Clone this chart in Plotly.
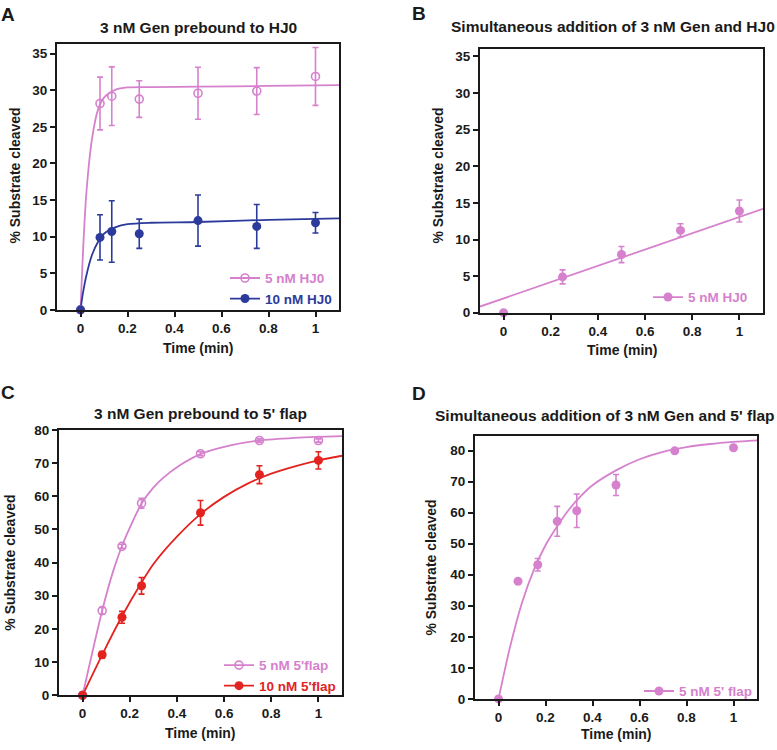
import plotly.graph_objects as go

PINK = "#d681cd"
BLUE = "#2c3b9b"
RED = "#e2231f"
FONT = "Liberation Sans"

# ---------- Panel A: 3 nM Gen prebound to HJ0 ----------
a_time = [0, 0.083, 0.133, 0.25, 0.5, 0.75, 1.0]
a_hj5 = [0, 28.2, 29.2, 28.8, 29.6, 29.9, 31.9]
a_hj5_err = [0, 3.6, 4.0, 2.5, 3.55, 3.2, 3.95]
a_hj10 = [0, 9.9, 10.7, 10.4, 12.2, 11.4, 11.9]
a_hj10_err = [0, 3.1, 4.2, 2.0, 3.5, 3.0, 1.4]
a_fit_t = [0, 0.01, 0.025, 0.05, 0.075, 0.1, 0.15, 0.2, 0.3, 0.5, 0.8, 1.1]
a_fit_hj5 = [0, 7.5, 16.0, 23.6, 27.4, 29.0, 30.1, 30.4, 30.45, 30.5, 30.6, 30.7]
a_fit_hj10 = [0, 2.2, 4.7, 7.6, 9.3, 10.4, 11.3, 11.7, 11.9, 12.0, 12.3, 12.5]

# ---------- Panel B: simultaneous addition, HJ0 ----------
b_time = [0, 0.25, 0.5, 0.75, 1.0]
b_hj5 = [0, 4.9, 7.95, 11.25, 13.9]
b_hj5_err = [0, 0.95, 1.1, 0.9, 1.5]
b_fit_t = [-0.1, 1.1]
b_fit = [0.85, 14.2]

# ---------- Panel C: 3 nM Gen prebound to 5' flap ----------
c_time = [0, 0.083, 0.167, 0.25, 0.5, 0.75, 1.0]
c_fl5 = [0, 25.5, 44.9, 57.9, 72.8, 76.8, 76.8]
c_fl5_err = [0, 1.0, 0.6, 1.5, 0.6, 0.5, 0.5]
c_fl10 = [0, 12.2, 23.5, 33.0, 55.0, 66.5, 70.8]
c_fl10_err = [0, 1.0, 1.8, 2.5, 3.7, 2.7, 2.6]
c_fit5_t = [0, 0.083, 0.13, 0.167, 0.215, 0.25, 0.3, 0.343, 0.414, 0.5, 0.627, 0.75, 0.9, 1.0, 1.1]
c_fit5 = [0, 25.5, 37.5, 45.0, 52.8, 57.8, 62.6, 65.6, 69.4, 72.7, 75.3, 76.8, 77.6, 77.9, 78.1]
c_fit10_t = [0, 0.083, 0.167, 0.25, 0.3, 0.4, 0.5, 0.6, 0.7, 0.8, 0.9, 1.0, 1.1]
c_fit10 = [0, 12.2, 23.8, 34.0, 39.5, 47.8, 54.6, 59.8, 63.8, 66.8, 69.0, 70.8, 72.2]

# ---------- Panel D: simultaneous addition, 5' flap ----------
d_time = [0, 0.083, 0.167, 0.25, 0.333, 0.5, 0.75, 1.0]
d_fl5 = [0, 37.9, 43.2, 57.2, 60.6, 68.9, 79.9, 80.9]
d_fl5_err = [0, 0.5, 2.0, 4.8, 5.4, 3.4, 0.5, 0.5]
d_fit_t = [0, 0.05, 0.1, 0.15, 0.2, 0.25, 0.3, 0.35, 0.4, 0.5, 0.6, 0.7, 0.8, 0.9, 1.0, 1.1]
d_fit = [0, 17.0, 31.0, 41.5, 49.5, 55.6, 61.0, 65.3, 68.8, 73.6, 77.2, 79.6, 81.1, 82.1, 82.8, 83.3]

x_ticks = [0, 0.2, 0.4, 0.6, 0.8, 1]
x_ticktext = ["0", "0.2", "0.4", "0.6", "0.8", "1"]

fig = go.Figure()


def fit_line(x, y, color, ax):
    fig.add_trace(go.Scatter(x=x, y=y, mode="lines", line=dict(color=color, width=1.8, shape="spline", smoothing=0.8),
                             xaxis=ax[0], yaxis=ax[1], showlegend=False, hoverinfo="skip"))


def make_marker(color, open_marker):
    if open_marker:
        return dict(color=color, size=8, symbol="circle-open", line=dict(color=color, width=1.6))
    return dict(color=color, size=9)


def points(x, y, err, color, ax, open_marker):
    fig.add_trace(go.Scatter(x=x, y=y, mode="markers", marker=make_marker(color, open_marker), cliponaxis=False,
                             error_y=dict(type="data", array=err, color=color, thickness=1.6, width=3),
                             xaxis=ax[0], yaxis=ax[1], showlegend=False))


def legend_entry(name, color, ax, legend, open_marker):
    fig.add_trace(go.Scatter(x=[None], y=[None], mode="lines+markers", marker=make_marker(color, open_marker),
                             line=dict(color=color, width=1.8),
                             name=f"<span style='color:{color}'><b>{name}</b></span>",
                             xaxis=ax[0], yaxis=ax[1], legend=legend, showlegend=True))


# Panel A
fit_line(a_fit_t, a_fit_hj5, PINK, ("x", "y"))
fit_line(a_fit_t, a_fit_hj10, BLUE, ("x", "y"))
points(a_time, a_hj5, a_hj5_err, PINK, ("x", "y"), True)
points(a_time, a_hj10, a_hj10_err, BLUE, ("x", "y"), False)
legend_entry("5 nM HJ0", PINK, ("x", "y"), "legend", True)
legend_entry("10 nM HJ0", BLUE, ("x", "y"), "legend", False)

# Panel B
fit_line(b_fit_t, b_fit, PINK, ("x2", "y2"))
points(b_time, b_hj5, b_hj5_err, PINK, ("x2", "y2"), False)
legend_entry("5 nM HJ0", PINK, ("x2", "y2"), "legend2", False)

# Panel C
fit_line(c_fit5_t, c_fit5, PINK, ("x3", "y3"))
fit_line(c_fit10_t, c_fit10, RED, ("x3", "y3"))
points(c_time, c_fl5, c_fl5_err, PINK, ("x3", "y3"), True)
points(c_time, c_fl10, c_fl10_err, RED, ("x3", "y3"), False)
legend_entry("5 nM 5'flap", PINK, ("x3", "y3"), "legend3", True)
legend_entry("10 nM 5'flap", RED, ("x3", "y3"), "legend3", False)

# Panel D
fit_line(d_fit_t, d_fit, PINK, ("x4", "y4"))
points(d_time, d_fl5, d_fl5_err, PINK, ("x4", "y4"), False)
legend_entry("5 nM 5' flap", PINK, ("x4", "y4"), "legend4", False)

W, H = 777, 750


def px_dom(a, b, total, flip=False):
    if flip:
        return [1 - b / total, 1 - a / total]
    return [a / total, b / total]


tickfont = dict(family=FONT, size=13.5, color="#1a1a1a", weight="bold")


def xaxis(dom, anchor):
    return dict(domain=dom, anchor=anchor, range=[-0.1, 1.1], tickvals=x_ticks, ticktext=x_ticktext,
                showline=True, linecolor="#1a1a1a", linewidth=2, mirror=True, ticks="outside",
                ticklen=5, tickwidth=2, tickcolor="#1a1a1a", showgrid=False, zeroline=False,
                tickfont=tickfont, fixedrange=True)


def yaxis(dom, anchor, rng, dtick):
    return dict(domain=dom, anchor=anchor, range=rng, dtick=dtick, tick0=0,
                showline=True, linecolor="#1a1a1a", linewidth=2, mirror=True, ticks="outside",
                ticklen=5, tickwidth=2, tickcolor="#1a1a1a", showgrid=False, zeroline=False,
                tickfont=tickfont, fixedrange=True)


layout = dict(
    width=W, height=H, margin=dict(l=0, r=0, t=0, b=0),
    paper_bgcolor="white", plot_bgcolor="white",
    font=dict(family=FONT, color="#1a1a1a"),
    xaxis=xaxis(px_dom(57, 339, W), "y"),
    yaxis=yaxis(px_dom(38, 309, H, True), "x", [0, 36.3], 5),
    xaxis2=xaxis(px_dom(480, 763, W), "y2"),
    yaxis2=yaxis(px_dom(43, 312, H, True), "x2", [0, 36.0], 5),
    xaxis3=xaxis(px_dom(59, 342, W), "y3"),
    yaxis3=yaxis(px_dom(431.5, 702.3, H, True), "x3", [0, 80], 10),
    xaxis4=xaxis(px_dom(475, 757, W), "y4"),
    yaxis4=yaxis(px_dom(437.7, 706, H, True), "x4", [0, 84.7], 10),
)

leg_common = dict(bgcolor="rgba(0,0,0,0)", font=dict(family=FONT, size=13.5), xanchor="right", yanchor="bottom",
                  itemwidth=30, tracegroupgap=0)
layout["legend"] = dict(leg_common, x=337 / W, y=1 - 314 / H)
layout["legend2"] = dict(leg_common, x=753 / W, y=1 - 312 / H)
layout["legend3"] = dict(leg_common, x=341 / W, y=1 - 709 / H)
layout["legend4"] = dict(leg_common, x=757 / W, y=1 - 714 / H)
fig.update_layout(**layout)


def ann(text, x, y, size, angle=0):
    fig.add_annotation(text=text, x=x / W, y=1 - y / H, xref="paper", yref="paper", showarrow=False,
                       textangle=angle, xanchor="center", yanchor="middle",
                       font=dict(family=FONT, size=size, color="#1a1a1a", weight="bold"))


# panel letters
ann("A", 8, 8, 19)
ann("B", 419, 7, 19)
ann("C", 8, 393, 19)
ann("D", 419, 394, 19)

# titles
ann("3 nM Gen prebound to HJ0", 198.5, 21, 15.5)
ann("Simultaneous addition of 3 nM Gen and HJ0", 613, 20, 15.5)
ann("3 nM Gen prebound to 5' flap", 200, 415, 15.5)
ann("Simultaneous addition of 3 nM Gen and 5' flap", 605, 417, 15.5)

# axis titles
ann("Time (min)", 198, 348, 14)
ann("Time (min)", 622.5, 350.5, 14)
ann("Time (min)", 200.5, 740.5, 14)
ann("Time (min)", 616, 741.5, 14)
ann("% Substrate cleaved", 15, 172, 14, -90)
ann("% Substrate cleaved", 438, 172, 14, -90)
ann("% Substrate cleaved", 10, 567, 14, -90)
ann("% Substrate cleaved", 431, 572, 14, -90)

fig.write_html("out.html", config={"displayModeBar": False},
               post_script="document.body.style.margin='0';document.body.style.overflow='hidden';")
